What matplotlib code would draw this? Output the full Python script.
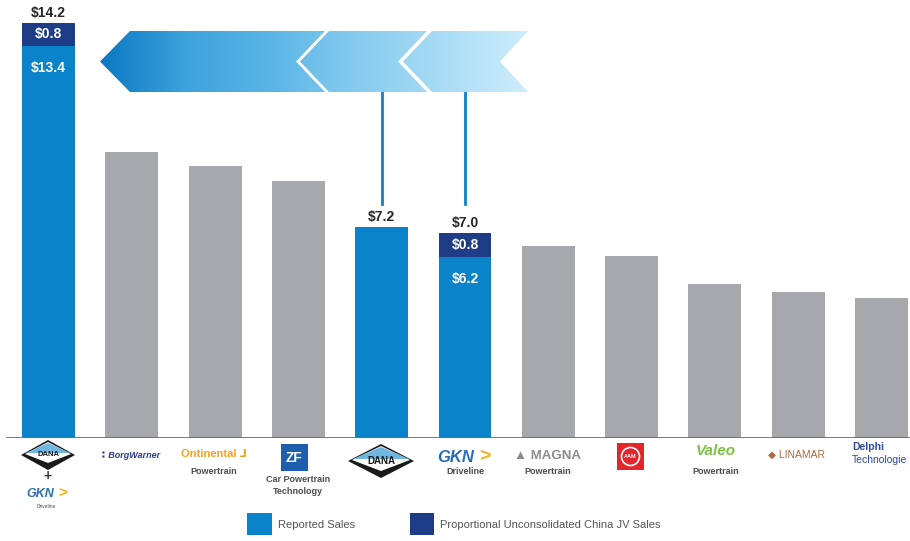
import matplotlib.pyplot as plt
import numpy as np
from matplotlib.patches import Polygon, Rectangle
from matplotlib.colors import LinearSegmentedColormap

plt.rcParams['font.family'] = ['Liberation Sans', 'DejaVu Sans']

# data ($B sales)
companies = ['Dana + GKN', 'BorgWarner', 'Continental Powertrain', 'ZF Car Powertrain Technology',
             'Dana', 'GKN Driveline', 'Magna Powertrain', 'AAM', 'Valeo Powertrain', 'Linamar',
             'Delphi Technologies']
reported = [13.4, 9.76, 9.31, 8.79, 7.2, 6.2, 6.57, 6.23, 5.26, 4.98, 4.80]
china_jv = [0.8, 0, 0, 0, 0, 0.8, 0, 0, 0, 0, 0]
highlight = [True, False, False, False, True, True, False, False, False, False, False]

BLUE = '#0b83cb'
NAVY = '#1f3d86'
GRAY = '#a7a8ac'

fig = plt.figure(figsize=(9.1, 5.41), dpi=100)
ax = fig.add_axes([0, 103 / 541, 1, 438 / 541])
x = np.arange(len(companies))
colors = [BLUE if h else GRAY for h in highlight]
ax.bar(x, reported, width=0.636, color=colors, zorder=2)
ax.bar(x, china_jv, bottom=reported, width=0.636, color=NAVY, zorder=2)
ax.set_xlim(-0.582, 10.342)
ax.set_ylim(0, 14.97)
ax.axis('off')
ax.axhline(0, xmin=7 / 910, xmax=1, color='#6d6e71', lw=2, zorder=3)

# value labels
for i in range(len(companies)):
    if not highlight[i]:
        continue
    total = reported[i] + china_jv[i]
    ax.text(i, total + 0.2, f'${total:.1f}', ha='center', va='baseline', fontsize=10,
            fontweight='bold', color='#262626', clip_on=False)
    if china_jv[i] > 0:
        ax.text(i, reported[i] + china_jv[i] / 2, f'${china_jv[i]:.1f}', ha='center', va='center',
                fontsize=10, fontweight='bold', color='white', zorder=4)
        ax.text(i, reported[i] - 0.75, f'${reported[i]:.1f}', ha='center', va='center',
                fontsize=10, fontweight='bold', color='white', zorder=4)

# connectors from banner to Dana and GKN
for i in [4, 5]:
    ax.plot([i, i], [8.0, 11.83], color=BLUE, lw=2, clip_on=False, zorder=1)

# overlay in pixel coords for banner, logos and legend
ov = fig.add_axes([0, 0, 1, 1], zorder=5)
ov.set_xlim(0, 910)
ov.set_ylim(541, 0)
ov.axis('off')
ov.patch.set_alpha(0)

cmap = LinearSegmentedColormap.from_list('band', ['#0a78c2', '#3ea2dc', '#5ab5e6', '#86cbef', '#a9dcf6', '#cdedfb'])
grad = np.linspace(0, 1, 256).reshape(1, -1)
t, b, m = 31, 92, 61.5
chevrons = [
    [(130, t), (325, t), (296, m), (325, b), (130, b), (100, m)],
    [(329, t), (427, t), (398, m), (427, b), (329, b), (300, m)],
    [(432, t), (528, t), (500, m), (528, b), (432, b), (403, m)],
]
for pts in chevrons:
    poly = Polygon(pts, closed=True, facecolor='none', edgecolor='none')
    ov.add_patch(poly)
    im = ov.imshow(grad, cmap=cmap, extent=(100, 528, b, t), aspect='auto', interpolation='bicubic')
    im.set_clip_path(poly)
ov.set_xlim(0, 910)
ov.set_ylim(541, 0)


def dana_logo(cx, cy, w, h, fs):
    ov.add_patch(Polygon([(cx - w / 2, cy), (cx, cy - h / 2), (cx + w / 2, cy), (cx, cy + h / 2)],
                         closed=True, facecolor='#1a1a1a', edgecolor='none'))
    ov.add_patch(Polygon([(cx - w / 2 + 4, cy - 1), (cx, cy - h / 2 + 2), (cx + w / 2 - 4, cy - 1),
                          (cx, cy + h / 2 - 7)], closed=True, facecolor='white', edgecolor='none'))
    ov.add_patch(Polygon([(cx - w / 2 + 5, cy - 2), (cx, cy - h / 2 + 3), (cx + w / 2 - 5, cy - 2)],
                         closed=True, facecolor='#6fb6e0', edgecolor='none'))
    ov.text(cx, cy, 'DANA', ha='center', va='center', fontsize=fs, fontweight='bold', color='#1a1a1a')


def gkn_logo(cx, cy, fs):
    ov.text(cx - 6, cy, 'GKN', ha='center', va='center', fontsize=fs, fontweight='bold',
            fontstyle='italic', color='#2a6db5')
    ov.text(cx + 19 * fs / 10, cy, '>', ha='center', va='center', fontsize=fs + 2,
            fontweight='bold', color='#f2b318')


sub = dict(ha='center', va='center', fontsize=6.5, fontweight='bold', color='#4d4d4d')

# 1 Dana + GKN
dana_logo(48, 455, 54, 30, 5.5)
ov.text(48, 476, '+', ha='center', va='center', fontsize=10, fontweight='bold', color='#333333')
gkn_logo(46, 494, 9)
ov.text(46, 506, 'Driveline', ha='center', va='center', fontsize=3.5, color='#4d4d4d')
# 2 BorgWarner
ov.text(131, 456, '⁑ BorgWarner', ha='center', va='center', fontsize=6.5, fontweight='bold',
        fontstyle='italic', color='#2c3a8c')
# 3 Continental
ov.text(214, 454, 'Ontinental ⅃', ha='center', va='center', fontsize=8, fontweight='bold',
        color='#f5a21f')
ov.text(214, 471, 'Powertrain', **sub)
# 4 ZF
ov.add_patch(Rectangle((281, 444), 27, 27, facecolor='#1d5fae', edgecolor='none'))
ov.text(294.5, 457.5, 'ZF', ha='center', va='center', fontsize=10, fontweight='bold', color='white')
ov.text(298, 479, 'Car Powertrain', **sub)
ov.text(298, 491, 'Technology', **sub)
# 5 Dana
dana_logo(381, 461, 66, 34, 7)
# 6 GKN Driveline
gkn_logo(462, 457, 12)
ov.text(465, 471, 'Driveline', **sub)
# 7 Magna
ov.text(548, 456, '▲ MAGNA', ha='center', va='center', fontsize=9.5, fontweight='bold',
        color='#8c8c8c')
ov.text(548, 471, 'Powertrain', **sub)
# 8 AAM
ov.add_patch(Rectangle((617, 443), 27, 27, facecolor='#e3262b', edgecolor='none'))
ov.add_patch(plt.Circle((630.5, 456.5), 9, facecolor='none', edgecolor='white', lw=1.2))
ov.text(630.5, 456.5, 'AAM', ha='center', va='center', fontsize=4, fontweight='bold', color='white')
# 9 Valeo
ov.text(716, 451, 'Valeo', ha='center', va='center', fontsize=11, fontweight='bold',
        fontstyle='italic', color='#7dc243')
ov.text(716, 471, 'Powertrain', **sub)
# 10 Linamar
ov.text(797, 455, '◆ LINAMAR', ha='center', va='center', fontsize=7.5, color='#b0683e')
# 11 Delphi
ov.text(852, 447, 'Delphi', ha='left', va='center', fontsize=7.5, fontweight='bold', color='#2b4aa3')
ov.text(852, 460, 'Technologie', ha='left', va='center', fontsize=7.5, color='#2b4aa3')

# legend
ov.add_patch(Rectangle((247, 513), 25, 22, facecolor=BLUE, edgecolor='none'))
ov.text(278, 525, 'Reported Sales', ha='left', va='center', fontsize=8, color='#555555')
ov.add_patch(Rectangle((410, 513), 24, 22, facecolor=NAVY, edgecolor='none'))
ov.text(440, 525, 'Proportional Unconsolidated China JV Sales', ha='left', va='center',
        fontsize=8, color='#555555')

fig.savefig('out.png', dpi=100)
